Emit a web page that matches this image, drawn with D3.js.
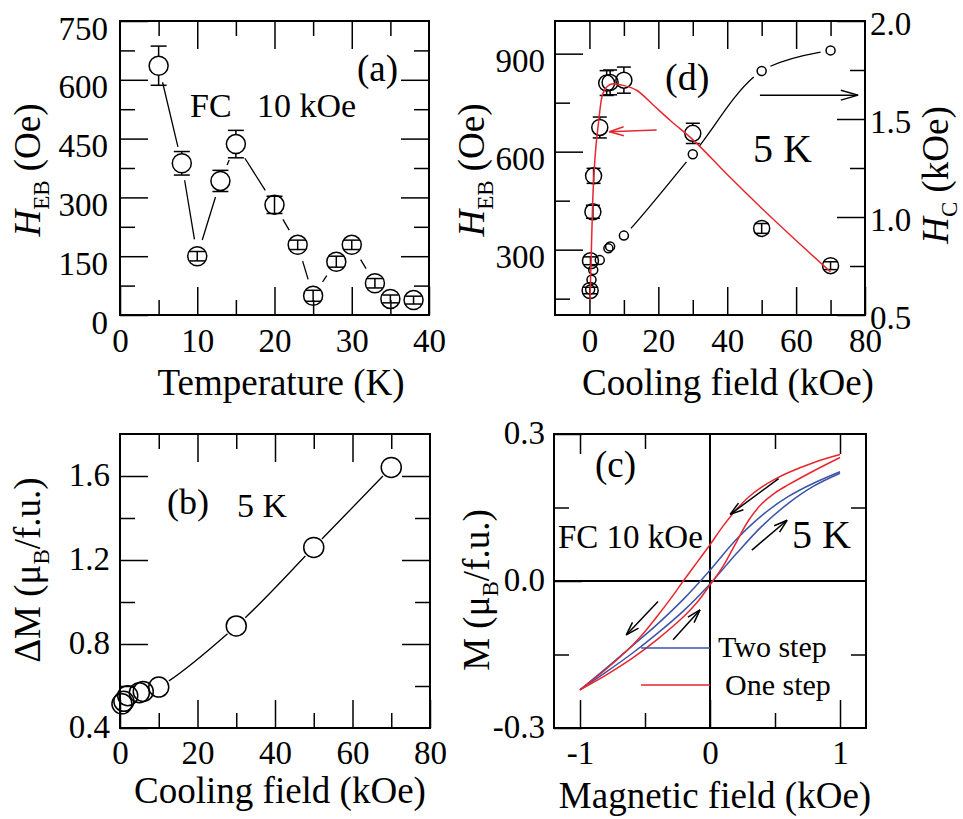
<!DOCTYPE html>
<html>
<head>
<meta charset="utf-8">
<script src="https://cdn.jsdelivr.net/npm/d3@7"></script>
<style>
  body { margin: 0; background: #fff; }
  svg { font-family: "Liberation Serif", "Times New Roman", serif; }
</style>
</head>
<body>
<script>
// ---------- data ----------
// (a) exchange bias field vs temperature, FC 10 kOe
const tempK   = [5, 8, 10, 13, 15, 20, 23, 25, 28, 30, 33, 35, 38];
const hebT    = [636, 387, 150, 342, 436, 281, 179, 49, 136, 179, 81, 41, 38];
const hebTErr = [50, 30, 12, 27, 35, 22, 12, 14, 14, 12, 12, 10, 10];

// (d) cooling field dependence at 5 K
const coolHeb = [0.2, 0.3, 1, 1.2, 3, 5, 6, 10, 30, 50, 70];
const hebH    = [175, 266, 416, 526, 674, 810, 812, 819, 656, 365, 251];
const hebHErr = [10, 12, 20, 23, 32, 38, 38, 40, 31, 15, 12];
const coolHc  = [0.2, 0.6, 1.1, 3, 5.5, 6, 10, 30, 50, 70];
const hcH     = [0.63, 0.68, 0.73, 0.78, 0.84, 0.85, 0.905, 1.32, 1.745, 1.85];
const fitX    = [0.17, 0.5, 0.96, 1.6, 2.6, 3.6, 5, 6.9, 9.8, 13.7, 18.6, 23.4, 30, 40, 50, 60, 70];
const fitY    = [146, 275, 452, 579, 686, 767, 798, 808, 803, 788, 742, 696, 637, 530, 427, 328, 232];

// (b) Delta M vs cooling field
const coolDm = [0.5, 1, 2, 5, 6, 10, 30, 50, 70];
const dM     = [0.515, 0.527, 0.554, 0.568, 0.574, 0.595, 0.886, 1.26, 1.641];

// (c) hysteresis loops at 5 K
const twoDownH = [1, 0.8, 0.6, 0.4, 0.2, 0, -0.2, -0.4, -0.6, -0.8, -1];
const twoDownM = [0.223, 0.200, 0.172, 0.134, 0.084, 0.022, -0.036, -0.087, -0.133, -0.178, -0.222];
const twoUpH   = [-1, -0.8, -0.6, -0.4, -0.2, 0, 0.2, 0.4, 0.6, 0.8, 1];
const twoUpM   = [-0.222, -0.186, -0.148, -0.106, -0.060, -0.006, 0.055, 0.112, 0.158, 0.194, 0.220];
const oneDownH = [1, 0.8, 0.6, 0.5, 0.4, 0.3, 0.2, 0.1, 0, -0.1, -0.2, -0.3, -0.4, -0.5, -0.6, -0.8, -1];
const oneDownM = [0.258, 0.242, 0.221, 0.208, 0.192, 0.172, 0.145, 0.112, 0.074, 0.038, 0.002, -0.035, -0.070, -0.103, -0.132, -0.180, -0.222];
const oneUpH   = [-1, -0.8, -0.6, -0.4, -0.2, -0.1, 0, 0.1, 0.2, 0.3, 0.4, 0.5, 0.6, 0.8, 1];
const oneUpM   = [-0.222, -0.192, -0.158, -0.118, -0.072, -0.044, -0.008, 0.030, 0.078, 0.125, 0.158, 0.180, 0.196, 0.225, 0.252];

const FONT = '"Liberation Serif", "Times New Roman", serif';
const RED = '#e8262e', BLUE = '#3a55a6';

let svg = d3.select('body').append('svg').attr('width', 963).attr('height', 819);
svg.append('rect').attr('width', 963).attr('height', 819).attr('fill', '#fff');

//---------- helpers ----------
function addAxis(g, gen, scale, vals, size, fmt, tx, ty, pad, dy) {
    let a = g.append('g')
        .attr('transform', `translate(${tx},${ty})`)
        .call(gen(scale).tickValues(vals).tickSize(size).tickPadding(pad || 0)
            .tickFormat(fmt || (() => '')));
    a.attr('font-family', FONT).attr('font-size', 33);
    a.select('.domain').remove();
    a.selectAll('line').attr('stroke', '#000').attr('stroke-width', 1.5);
    a.selectAll('text').attr('fill', '#000');
    if (dy) a.selectAll('text').attr('dy', dy);
    return a;
}

function frame(g, b) {
    g.append('rect').attr('x', b.x0).attr('y', b.y0)
        .attr('width', b.x1 - b.x0).attr('height', b.y1 - b.y0)
        .attr('fill', 'none').attr('stroke', '#000').attr('stroke-width', 2);
}

// line through points, with gaps around each symbol
function gapLine(g, pts, curve, gap, color, width) {
    let path = g.append('path').attr('d', d3.line().curve(curve)(pts))
        .attr('fill', 'none').attr('stroke', color).attr('stroke-width', width);
    let node = path.node();
    let total = node.getTotalLength();
    let at = [], from = 0;
    pts.forEach(p => {
        let best = Infinity, bestL = from;
        for (let L = from; L <= total; L += 0.5) {
            let q = node.getPointAtLength(L);
            let d = Math.hypot(q.x - p[0], q.y - p[1]);
            if (d < best) { best = d; bestL = L; }
            else if (best < 1.5 && d > best + 6) break;
        }
        at.push(bestL); from = bestL;
    });
    let dash = [0], pos = 0;
    for (let i = 0; i < at.length - 1; i++) {
        let a = at[i] + gap, b = at[i + 1] - gap;
        if (b > a) { dash.push(a - pos, b - a); pos = b; }
    }
    dash.push(total - pos + 10);
    path.attr('stroke-dasharray', dash.join(' '));
}

function points(g, xs, ys, errs, xS, yS, r, cap) {
    xs.forEach((xv, i) => {
        let cx = xS(xv), cy = yS(ys[i]);
        if (errs) {
            let top = yS(ys[i] + errs[i]), bot = yS(ys[i] - errs[i]);
            let segs = (cy - top > r) ? [[top, cy - r], [cy + r, bot]] : [[top, bot]];
            segs.forEach(s => g.append('line').attr('x1', cx).attr('x2', cx)
                .attr('y1', s[0]).attr('y2', s[1]).attr('stroke', '#000').attr('stroke-width', 1.5));
            [top, bot].forEach(yy => g.append('line').attr('x1', cx - cap).attr('x2', cx + cap)
                .attr('y1', yy).attr('y2', yy).attr('stroke', '#000').attr('stroke-width', 1.5));
        }
        g.append('circle').attr('cx', cx).attr('cy', cy).attr('r', r)
            .attr('fill', 'none').attr('stroke', '#000').attr('stroke-width', 1.5);
    });
}

function arrow(g, x1, y1, x2, y2, color, len, ang) {
    g.append('line').attr('x1', x1).attr('y1', y1).attr('x2', x2).attr('y2', y2)
        .attr('stroke', color).attr('stroke-width', 1.5);
    let th = Math.atan2(y1 - y2, x1 - x2);
    [ang, -ang].forEach(a => {
        g.append('line').attr('x1', x2).attr('y1', y2)
            .attr('x2', x2 + len * Math.cos(th + a)).attr('y2', y2 + len * Math.sin(th + a))
            .attr('stroke', color).attr('stroke-width', 1.5);
    });
}

function label(g, x, y, str, size, anchor) {
    return g.append('text').attr('x', x).attr('y', y).attr('font-size', size)
        .attr('text-anchor', anchor || 'start').attr('fill', '#000').text(str);
}

// rotated axis title with a subscript
function yTitle(g, x, y, pre, sub, post, italic) {
    let t = g.append('text').attr('transform', `translate(${x},${y}) rotate(-90)`)
        .attr('text-anchor', 'middle').attr('font-size', 37).attr('fill', '#000');
    t.append('tspan').attr('font-style', italic ? 'italic' : null).text(pre);
    t.append('tspan').attr('font-size', 23).attr('dy', 9).text(sub);
    t.append('tspan').attr('dy', -9).text(post);
    return t;
}

//---------- (a) ----------
const A = { x0: 120, x1: 429, y0: 21, y1: 315 };
let gA = svg.append('g');
let xA = d3.scaleLinear().domain([0, 40]).range([A.x0, A.x1]);
let yA = d3.scaleLinear().domain([0, 750]).range([A.y1, A.y0]);
addAxis(gA, d3.axisBottom, xA, [0, 10, 20, 30, 40], -28, d => d, 0, A.y1, 14);
addAxis(gA, d3.axisBottom, xA, [5, 15, 25, 35], -15, null, 0, A.y1);
addAxis(gA, d3.axisTop, xA, [10, 20, 30], -28, null, 0, A.y0);
addAxis(gA, d3.axisTop, xA, [5, 15, 25, 35], -15, null, 0, A.y0);
addAxis(gA, d3.axisLeft, yA, [0, 150, 300, 450, 600, 750], -28, d => d, A.x0, 0, 12, '0.55em');
addAxis(gA, d3.axisLeft, yA, [75, 225, 375, 525, 675], -15, null, A.x0, 0);
addAxis(gA, d3.axisRight, yA, [150, 300, 450, 600], -28, null, A.x1, 0);
addAxis(gA, d3.axisRight, yA, [75, 225, 375, 525, 675], -15, null, A.x1, 0);
frame(gA, A);
gapLine(gA, tempK.map((t, i) => [xA(t), yA(hebT[i])]), d3.curveLinear, 17, '#000', 1.3);
points(gA, tempK, hebT, hebTErr, xA, yA, 9.5, 8);
label(gA, 357, 81, '(a)', 37);
let fcA = gA.append('text').attr('y', 117).attr('font-size', 34).attr('fill', '#000');
fcA.append('tspan').attr('x', 190).text('FC');
fcA.append('tspan').attr('x', 257).text('10 kOe');
label(gA, 281, 395, 'Temperature (K)', 37, 'middle');
yTitle(gA, 40, 170, 'H', 'EB', ' (Oe)', true);

//---------- (d) ----------
const D = { x0: 555, x1: 865, y0: 21, y1: 315 };
let gD = svg.append('g');
let xD = d3.scaleLinear().domain([-10, 80]).range([D.x0, D.x1]);
let yD = d3.scaleLinear().domain([100, 1000]).range([D.y1, D.y0]);
let yD2 = d3.scaleLinear().domain([0.5, 2.0]).range([D.y1, D.y0]);
addAxis(gD, d3.axisBottom, xD, [0, 20, 40, 60, 80], -28, d => d, 0, D.y1, 14);
addAxis(gD, d3.axisBottom, xD, [10, 30, 50, 70], -15, null, 0, D.y1);
addAxis(gD, d3.axisTop, xD, [0, 20, 40, 60], -28, null, 0, D.y0);
addAxis(gD, d3.axisTop, xD, [10, 30, 50, 70], -15, null, 0, D.y0);
addAxis(gD, d3.axisLeft, yD, [300, 600, 900], -28, d => d, D.x0, 0, 10, '0.55em');
addAxis(gD, d3.axisLeft, yD, [150, 450, 750], -15, null, D.x0, 0);
addAxis(gD, d3.axisRight, yD2, [0.5, 1.0, 1.5, 2.0], -28, d => d.toFixed(1), D.x1, 0, 5, '0.4em');
addAxis(gD, d3.axisRight, yD2, [0.75, 1.25, 1.75], -15, null, D.x1, 0);
frame(gD, D);
gapLine(gD, coolHc.map((c, i) => [xD(c), yD2(hcH[i])]), d3.curveCatmullRom, 10, '#000', 1.3);
points(gD, coolHc, hcH, null, xD, yD2, 4.5, 0);
points(gD, coolHeb, hebH, hebHErr, xD, yD, 8, 7);
gD.append('path')
    .attr('d', d3.line().curve(d3.curveMonotoneX)(fitX.map((f, i) => [xD(f), yD(fitY[i])])))
    .attr('fill', 'none').attr('stroke', RED).attr('stroke-width', 1.5);
arrow(gD, xD(19.5), yD(666), xD(5.8), yD(661), RED, 15, 0.3);
arrow(gD, xD(49.5), yD(773), xD(78), yD(773), '#000', 18, 0.28);
label(gD, 665, 90, '(d)', 38);
label(gD, 753, 162, '5 K', 40);
label(gD, 728, 395, 'Cooling field (kOe)', 37, 'middle');
yTitle(gD, 484, 170, 'H', 'EB', ' (Oe)', true);
yTitle(gD, 948, 175, 'H', 'C', ' (kOe)', true);

//---------- (b) ----------
const B = { x0: 120, x1: 430, y0: 434, y1: 728 };
let gB = svg.append('g');
let xB = d3.scaleLinear().domain([0, 80]).range([B.x0, B.x1]);
let yB = d3.scaleLinear().domain([0.4, 1.8]).range([B.y1, B.y0]);
addAxis(gB, d3.axisBottom, xB, [0, 20, 40, 60, 80], -28, d => d, 0, B.y1, 13);
addAxis(gB, d3.axisBottom, xB, [10, 30, 50, 70], -15, null, 0, B.y1);
addAxis(gB, d3.axisTop, xB, [20, 40, 60], -28, null, 0, B.y0);
addAxis(gB, d3.axisTop, xB, [10, 30, 50, 70], -15, null, 0, B.y0);
addAxis(gB, d3.axisLeft, yB, [0.4, 0.8, 1.2, 1.6], -28, d => d.toFixed(1), B.x0, 0, 10, '0.3em');
addAxis(gB, d3.axisLeft, yB, [0.6, 1.0, 1.4], -15, null, B.x0, 0);
addAxis(gB, d3.axisRight, yB, [0.8, 1.2, 1.6], -28, null, B.x1, 0);
addAxis(gB, d3.axisRight, yB, [0.6, 1.0, 1.4], -15, null, B.x1, 0);
frame(gB, B);
gapLine(gB, coolDm.map((c, i) => [xB(c), yB(dM[i])]), d3.curveCatmullRom, 12, '#000', 1.3);
points(gB, coolDm, dM, null, xB, yB, 10, 0);
label(gB, 167, 514, '(b)', 36);
label(gB, 237, 517, '5 K', 34);
label(gB, 280, 803, 'Cooling field (kOe)', 37, 'middle');
yTitle(gB, 40, 570, '\u0394M (\u03bc', 'B', '/f.u.)', false);

//---------- (c) ----------
const C = { x0: 554, x1: 866, y0: 434, y1: 728 };
let gC = svg.append('g');
let xC = d3.scaleLinear().domain([-1.2, 1.2]).range([C.x0, C.x1]);
let yC = d3.scaleLinear().domain([-0.3, 0.3]).range([C.y1, C.y0]);
addAxis(gC, d3.axisBottom, xC, [-1, 0, 1], -28, d => d, 0, C.y1, 13);
addAxis(gC, d3.axisBottom, xC, [-0.5, 0.5], -15, null, 0, C.y1);
addAxis(gC, d3.axisTop, xC, [-1, 1], -20, null, 0, C.y0);
addAxis(gC, d3.axisTop, xC, [-0.5, 0.5], -15, null, 0, C.y0);
addAxis(gC, d3.axisLeft, yC, [-0.3, 0, 0.3], -28, d => d.toFixed(1), C.x0, 0, 9, '0.3em');
addAxis(gC, d3.axisLeft, yC, [-0.15, 0.15], -15, null, C.x0, 0);
addAxis(gC, d3.axisRight, yC, [-0.15, 0.15], -15, null, C.x1, 0);
frame(gC, C);
gC.append('line').attr('x1', C.x0).attr('x2', C.x1).attr('y1', yC(0)).attr('y2', yC(0))
    .attr('stroke', '#000').attr('stroke-width', 2);
gC.append('line').attr('x1', xC(0)).attr('x2', xC(0)).attr('y1', C.y0).attr('y2', C.y1)
    .attr('stroke', '#000').attr('stroke-width', 2);
let loop = d3.line().curve(d3.curveCatmullRom);
[[twoDownH, twoDownM, BLUE], [twoUpH, twoUpM, BLUE], [oneDownH, oneDownM, RED], [oneUpH, oneUpM, RED]]
    .forEach(([hs, ms, col]) => {
        gC.append('path').attr('d', loop(hs.map((h, i) => [xC(h), yC(ms[i])])))
            .attr('fill', 'none').attr('stroke', col).attr('stroke-width', 1.5);
    });
arrow(gC, xC(0.528), yC(0.209), xC(0.155), yC(0.136), '#000', 14, 0.3);
arrow(gC, xC(0.322), yC(0.063), xC(0.593), yC(0.124), '#000', 14, 0.3);
arrow(gC, xC(-0.4), yC(-0.042), xC(-0.644), yC(-0.11), '#000', 14, 0.3);
arrow(gC, xC(-0.284), yC(-0.12), xC(-0.077), yC(-0.059), '#000', 14, 0.3);
// legend
gC.append('line').attr('x1', xC(-0.53)).attr('x2', xC(0)).attr('y1', 648).attr('y2', 648)
    .attr('stroke', BLUE).attr('stroke-width', 1.5);
gC.append('line').attr('x1', xC(-0.53)).attr('x2', xC(0)).attr('y1', 685).attr('y2', 685)
    .attr('stroke', RED).attr('stroke-width', 1.5);
label(gC, 718, 657, 'Two step', 30);
label(gC, 725, 695, 'One step', 30);
label(gC, 595, 477, '(c)', 37);
label(gC, 558, 548, 'FC 10 kOe', 33);
label(gC, 792, 548, '5 K', 40);
label(gC, 715, 808, 'Magnetic field (kOe)', 37, 'middle');
yTitle(gC, 489, 590, 'M (\u03bc', 'B', '/f.u.)', false);
</script>
</body>
</html>
